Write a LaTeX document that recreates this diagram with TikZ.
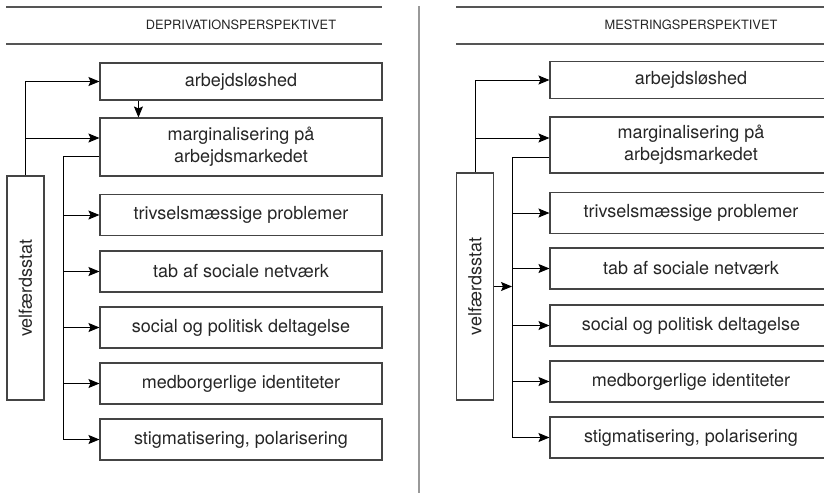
\documentclass[tikz,border=0pt]{standalone}
\usepackage{fontspec}
\setmainfont{TeX Gyre Heros}
\usepackage{tikz}
\usetikzlibrary{arrows.meta}
\definecolor{boxgray}{HTML}{444444}
\definecolor{rulegray}{HTML}{555555}
\definecolor{divgray}{HTML}{999999}

\begin{document}
\begin{tikzpicture}[x=1pt,y=-1pt,
    box/.style={draw=boxgray,line width=1.1pt,minimum width=282pt,minimum height=41pt,
        inner sep=0pt,align=center,font=\fontsize{18}{22}\selectfont,text=black!85},
    vbox/.style={draw=boxgray,line width=1.1pt,minimum width=224pt,minimum height=37pt,
        inner sep=0pt,rotate=90,font=\fontsize{18}{22}\selectfont,text=black!85},
    arr/.style={line width=0.9pt,-{Stealth[length=11pt,width=9pt,inset=2pt]}},
    rule/.style={rulegray,line width=1.6pt},
    head/.style={font=\fontsize{12.8}{15}\selectfont,text=black!85}]
    \useasboundingbox (0,0) rectangle (824,493);
    \clip (0,0) rectangle (824,493);
    \draw[divgray,line width=2pt] (419,6) -- (419,493);
    % deprivation
    \begin{scope}[name prefix=L-]
    \draw[rule] (6,7) -- (382,7);
    \draw[rule] (6,44) -- (382,44);
    \node[head] (title) at (241,25) {DEPRIVATIONSPERSPEKTIVET};
    \node[box,minimum height=37pt] (arb) at (241,81.5) {arbejdsløshed};
    \node[box,minimum height=58pt] (marg) at (241,147) {marginalisering på\\arbejdsmarkedet};
    \node[box] (triv) at (241,215) {trivselsmæssige problemer};
    \node[box] (tab) at (241,271.5) {tab af sociale netværk};
    \node[box] (soc) at (241,327.5) {social og politisk deltagelse};
    \node[box] (med) at (241,383.5) {medborgerlige identiteter};
    \node[box] (stig) at (241,439.5) {stigmatisering, polarisering};
    \node[vbox] (vel) at (25.5,288) {velfærdsstat};
    \coordinate (margin) at ([yshift=9pt]marg.west);
    \coordinate (margout) at ([yshift=-9pt]marg.west);
    \coordinate (bus) at (63,0);
    \draw[arr] (vel.east) |- (arb.west);
    \draw[arr] (vel.east |- margin) -- (margin);
    \draw[arr] ([xshift=39pt]arb.south west) -- ([xshift=39pt]marg.north west);
    \draw[arr] (margout) -| (bus |- stig.west) -- (stig.west);
    \foreach \n in {triv,tab,soc,med}
        \draw[arr] (bus |- \n.west) -- (\n.west);
    \end{scope}
    % mestring
    \begin{scope}[shift={(450,0)},name prefix=R-]
    \draw[rule] (6,7) -- (382,7);
    \draw[rule] (6,44) -- (382,44);
    \node[head] (title) at (241,25) {MESTRINGSPERSPEKTIVET};
    \node[box,minimum height=37pt] (arb) at (241,80) {arbejdsløshed};
    \node[box,minimum height=56pt] (marg) at (241,145) {marginalisering på\\arbejdsmarkedet};
    \node[box] (triv) at (241,213) {trivselsmæssige problemer};
    \node[box] (tab) at (241,268.5) {tab af sociale netværk};
    \node[box] (soc) at (241,325.5) {social og politisk deltagelse};
    \node[box] (med) at (241,381.5) {medborgerlige identiteter};
    \node[box] (stig) at (241,437.5) {stigmatisering, polarisering};
    \node[vbox,minimum width=227pt] (vel) at (25,286.5) {velfærdsstat};
    \coordinate (margin) at ([yshift=7pt]marg.west);
    \coordinate (margout) at ([yshift=-12pt]marg.west);
    \coordinate (bus) at (62,0);
    \draw[arr] (vel.east) |- (arb.west);
    \draw[arr] (vel.east |- margin) -- (margin);
    \draw[arr] (margout) -| (bus |- stig.west) -- (stig.west);
    \foreach \n in {triv,tab,soc,med}
        \draw[arr] (bus |- \n.west) -- (\n.west);
    \draw[arr] (vel.south) -- (bus |- vel.south);
    \end{scope}
\end{tikzpicture}
\end{document}
